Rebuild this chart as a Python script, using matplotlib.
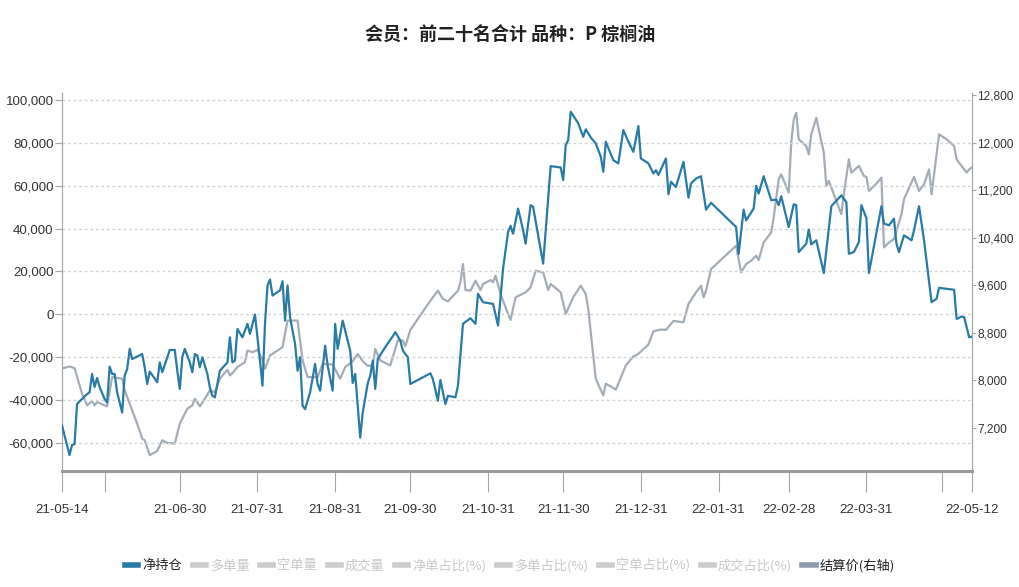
import matplotlib
matplotlib.use("Agg")
import matplotlib.pyplot as plt
import pandas as pd
from matplotlib.lines import Line2D

plt.rcParams['font.family'] = ['Noto Sans CJK SC', 'DejaVu Sans']

# 净持仓 (左轴)
net_dates = [
    "21-05-14", "21-05-17", "21-05-18", "21-05-19", "21-05-20", "21-05-21", "21-05-24", "21-05-25",
    "21-05-26", "21-05-27", "21-05-28", "21-05-29", "21-05-31", "21-06-01", "21-06-02", "21-06-03",
    "21-06-04", "21-06-05", "21-06-07", "21-06-08", "21-06-09", "21-06-10", "21-06-11", "21-06-13",
    "21-06-15", "21-06-16", "21-06-17", "21-06-18", "21-06-21", "21-06-22", "21-06-23", "21-06-26",
    "21-06-28", "21-06-29", "21-06-30",
    "21-07-01", "21-07-02", "21-07-04", "21-07-05", "21-07-06", "21-07-07", "21-07-08", "21-07-09",
    "21-07-11", "21-07-12", "21-07-13", "21-07-14", "21-07-16", "21-07-19", "21-07-20", "21-07-21",
    "21-07-22", "21-07-23", "21-07-25", "21-07-27", "21-07-28", "21-07-30",
    "21-08-01", "21-08-02", "21-08-03", "21-08-04", "21-08-05", "21-08-06", "21-08-09", "21-08-10",
    "21-08-11", "21-08-12", "21-08-13", "21-08-15", "21-08-16", "21-08-17", "21-08-18", "21-08-19",
    "21-08-21", "21-08-23", "21-08-24", "21-08-25", "21-08-27", "21-08-28", "21-08-30", "21-08-31",
    "21-09-01", "21-09-03", "21-09-06", "21-09-07", "21-09-08", "21-09-10", "21-09-11", "21-09-13",
    "21-09-14", "21-09-15", "21-09-16", "21-09-17", "21-09-20", "21-09-23", "21-09-24", "21-09-26",
    "21-09-27", "21-09-29", "21-09-30",
    "21-10-08", "21-10-09", "21-10-11", "21-10-12", "21-10-14", "21-10-15", "21-10-18", "21-10-19",
    "21-10-21", "21-10-24", "21-10-26", "21-10-27", "21-10-29",
    "21-11-02", "21-11-04", "21-11-06", "21-11-08", "21-11-09", "21-11-10", "21-11-12", "21-11-14",
    "21-11-15", "21-11-17", "21-11-18", "21-11-22", "21-11-25", "21-11-29", "21-11-30",
    "21-12-01", "21-12-02", "21-12-03", "21-12-06", "21-12-08", "21-12-09", "21-12-11", "21-12-13",
    "21-12-15", "21-12-16", "21-12-17", "21-12-20", "21-12-22", "21-12-24", "21-12-26", "21-12-28",
    "21-12-30", "21-12-31",
    "22-01-03", "22-01-05", "22-01-06", "22-01-07", "22-01-10", "22-01-11", "22-01-12", "22-01-14",
    "22-01-17", "22-01-19", "22-01-20", "22-01-22", "22-01-24", "22-01-26", "22-01-28",
    "22-02-07", "22-02-08", "22-02-10", "22-02-11", "22-02-14", "22-02-15", "22-02-16", "22-02-18",
    "22-02-21", "22-02-23", "22-02-24", "22-02-25", "22-02-28",
    "22-03-02", "22-03-03", "22-03-04", "22-03-07", "22-03-08", "22-03-09", "22-03-11", "22-03-14",
    "22-03-17", "22-03-21", "22-03-23", "22-03-24", "22-03-26", "22-03-28", "22-03-29", "22-03-31",
    "22-04-01", "22-04-06", "22-04-07", "22-04-09", "22-04-11", "22-04-12", "22-04-13", "22-04-15",
    "22-04-18", "22-04-19", "22-04-21", "22-04-23", "22-04-26", "22-04-28", "22-04-29",
    "22-05-05", "22-05-06", "22-05-08", "22-05-09", "22-05-11", "22-05-12",
]
net_values = [
    -52000, -65800, -61000, -60700, -42000, -40700, -37300, -36500,
    -27900, -34000, -29800, -34000, -39600, -41200, -24500, -27900,
    -27900, -36500, -45900, -28700, -25600, -16200, -20900, -19800,
    -18600, -24800, -32600, -26800, -31800, -22500, -27100, -16700,
    -16700, -26400, -34900,
    -20100, -16200, -22500, -27100, -18600, -19300, -24800, -20100,
    -27900, -34200, -38100, -38800, -26400, -22500, -10800, -22500,
    -21700, -6900, -10800, -4500, -9200, -200,
    -21700, -33400, -4500, 13400, 16200, 8700, 11100, 15400,
    -3000, 13400, -1400, -13900, -26400, -20100, -42700, -44300,
    -36500, -23200, -32600, -35700, -14700, -24000, -35700, -4500,
    -16200, -3000, -17000, -32100, -27900, -57600, -45900, -32300,
    -28700, -21700, -34900, -20900, -15400, -10300, -8400, -12300,
    -17000, -20100, -32600,
    -27600, -30300, -40400, -30700, -42000, -38100, -38800, -33400,
    -4500, -1900, -4500, 9500, 5600,
    4800, -5300, 21200, 38400, 41200, 37600, 49300, 39200,
    32900, 50900, 50100, 23600, 69100, 68500, 62600,
    78900, 81300, 94500, 89100, 82800, 86300, 82500, 79700,
    73500, 66500, 80500, 71900, 70400, 86000, 80500, 75800,
    87800, 72700,
    70400, 65700, 67200, 65000, 72700, 56000, 61800, 59400,
    71100, 54400, 61000, 63300, 64400, 48800, 52000,
    40700, 28100, 48800, 43800, 49300, 59900, 56300, 64400,
    53200, 53500, 50900, 55100, 40700,
    51300, 50900, 29000, 32900, 39500, 32600, 34500, 19200,
    50400, 55500, 52300, 28200, 29000, 33700, 50900, 44800,
    19200, 50400, 42300, 41500, 44600, 32900, 29000, 36800,
    34500, 39200, 50400, 34500, 5600, 7200, 12300,
    11400, -2200, -1100, -1400, -10800, -10500,
]

# 结算价 (右轴)
price_dates = [
    "21-05-14", "21-05-17", "21-05-19", "21-05-21", "21-05-22", "21-05-24", "21-05-26", "21-05-27",
    "21-05-28", "21-05-30", "21-06-01", "21-06-03", "21-06-07", "21-06-08", "21-06-11", "21-06-13",
    "21-06-15", "21-06-16", "21-06-18", "21-06-21", "21-06-23", "21-06-25", "21-06-28", "21-06-30",
    "21-07-03", "21-07-05", "21-07-06", "21-07-08", "21-07-10", "21-07-12", "21-07-14", "21-07-16",
    "21-07-19", "21-07-20", "21-07-21", "21-07-23", "21-07-26", "21-07-27", "21-07-29", "21-07-31",
    "21-08-02", "21-08-03", "21-08-05", "21-08-06", "21-08-10", "21-08-12", "21-08-16", "21-08-18",
    "21-08-20", "21-08-24", "21-08-26", "21-08-30",
    "21-09-02", "21-09-04", "21-09-07", "21-09-09", "21-09-11", "21-09-13", "21-09-15", "21-09-16",
    "21-09-18", "21-09-22", "21-09-25", "21-09-27", "21-09-28", "21-09-30",
    "21-10-08", "21-10-11", "21-10-13", "21-10-15", "21-10-19", "21-10-20", "21-10-21", "21-10-22",
    "21-10-24", "21-10-26", "21-10-28", "21-10-29",
    "21-11-01", "21-11-02", "21-11-03", "21-11-05", "21-11-08", "21-11-09", "21-11-11", "21-11-15",
    "21-11-17", "21-11-19", "21-11-22", "21-11-24", "21-11-25", "21-11-29",
    "21-12-01", "21-12-04", "21-12-07", "21-12-09", "21-12-10", "21-12-13", "21-12-16", "21-12-17",
    "21-12-19", "21-12-21", "21-12-25", "21-12-28", "21-12-30",
    "22-01-03", "22-01-05", "22-01-08", "22-01-10", "22-01-13", "22-01-17", "22-01-19", "22-01-22",
    "22-01-24", "22-01-25", "22-01-26", "22-01-28",
    "22-02-07", "22-02-09", "22-02-11", "22-02-13", "22-02-15", "22-02-16", "22-02-18", "22-02-21",
    "22-02-22", "22-02-24", "22-02-25", "22-02-28",
    "22-03-01", "22-03-02", "22-03-03", "22-03-04", "22-03-07", "22-03-08", "22-03-09", "22-03-11",
    "22-03-14", "22-03-15", "22-03-16", "22-03-19", "22-03-21", "22-03-22", "22-03-24", "22-03-25",
    "22-03-28", "22-03-30", "22-03-31",
    "22-04-01", "22-04-04", "22-04-06", "22-04-07", "22-04-09", "22-04-11", "22-04-12", "22-04-14",
    "22-04-15", "22-04-19", "22-04-21", "22-04-23", "22-04-25", "22-04-26", "22-04-29",
    "22-05-02", "22-05-05", "22-05-06", "22-05-08", "22-05-10", "22-05-11", "22-05-12",
]
price_values = [
    8200, 8235, 8207, 7916, 7776, 7580, 7653, 7580,
    7636, 7597, 7564, 8056, 8028, 7832, 7496, 7273,
    7021, 6993, 6741, 6814, 6993, 6948, 6937, 7273,
    7524, 7580, 7692, 7564, 7692, 7832, 7804, 8028,
    8179, 8084, 8123, 8224, 8308, 8503, 8475, 8515,
    8347, 8196, 8419, 8447, 8559, 9007, 9007, 8336,
    8056, 8056, 8280, 8268,
    8028, 8224, 8324, 8447, 8324, 8245, 8252, 8531,
    8336, 8252, 8671, 8671, 8576, 8850,
    9343, 9510, 9371, 9331, 9510, 9650, 9958, 9521,
    9510, 9678, 9521, 9622,
    9689, 9650, 9762, 9454, 9119, 9018, 9398, 9482,
    9566, 9846, 9818, 9521, 9622, 9482,
    9119, 9398, 9594, 9454, 9203, 8028, 7748, 7944,
    7899, 7843, 8252, 8403, 8447,
    8604, 8828, 8856, 8850, 9000, 8979, 9287, 9482,
    9594, 9398, 9510, 9874,
    10266, 9818, 9958, 10014, 10098, 10025, 10321, 10489,
    10741, 11384, 11468, 11160,
    12000, 12391, 12503, 12056, 11944, 11804, 12140, 12419,
    11832, 11272, 11356, 11021, 10797, 11132, 11720, 11496,
    11608, 11440, 11423,
    11188, 11311, 11412, 10238, 10321, 10378, 10517, 10797,
    11049, 11423, 11188, 11300, 11552, 11132, 12140,
    12056, 11944, 11720, 11608, 11496, 11552, 11580,
]

tick_dates = ["21-05-14", "21-05-31", "21-06-30", "21-07-31", "21-08-31", "21-09-30", "21-10-31",
              "21-11-30", "21-12-31", "22-01-31", "22-02-28", "22-03-31", "22-04-30", "22-05-12"]
hidden_ticks = ["21-05-31", "22-04-30"]

legend_names = ['净持仓', '多单量', '空单量', '成交量', '净单占比(%)', '多单占比(%)',
                '空单占比(%)', '成交占比(%)', '结算价(右轴)']

net_x = pd.to_datetime(net_dates, format="%y-%m-%d")
price_x = pd.to_datetime(price_dates, format="%y-%m-%d")
tick_x = pd.to_datetime(tick_dates, format="%y-%m-%d")

num_font = 'Liberation Sans'
num_size = 8.6

blue = '#2a7aa6'
grey = '#a4adb7'
axis_col = '#a6a6a6'

fig = plt.figure(figsize=(10.2, 5.87), dpi=100)
ax = fig.add_axes([0.0608, 0.198, 0.8918, 0.643])
ax2 = ax.twinx()

ax.plot(net_x, net_values, color=blue, lw=1.6, zorder=3)
ax2.plot(price_x, price_values, color=grey, lw=1.6, zorder=2)
ax.set_zorder(ax2.get_zorder() + 1)
ax.patch.set_visible(False)

ax.set_xlim(tick_x[0], tick_x[-1])
ax.set_ylim(-73100, 103100)
ax2.set_ylim(6480, 12830)

ax.set_yticks(range(-60000, 100001, 20000))
ax.set_yticklabels(['{:,}'.format(v) for v in range(-60000, 100001, 20000)])
ax2.set_yticks(range(7200, 12801, 800))
ax2.set_yticklabels(['{:,}'.format(v) for v in range(7200, 12801, 800)])

ax.set_xticks(tick_x)
ax.set_xticklabels(['' if d in hidden_ticks else d for d in tick_dates])

ax.grid(axis='y', color='#d4d4d4', linestyle=(0, (2, 2)), lw=1)

for a in (ax, ax2):
    a.spines['top'].set_visible(False)
    a.spines['left'].set_color(axis_col)
    a.spines['right'].set_color(axis_col)
    a.spines['bottom'].set_color('#999999')
    a.spines['bottom'].set_linewidth(2)

ax.tick_params(axis='y', colors=axis_col, labelcolor='#333333', length=5, pad=1)
ax2.tick_params(axis='y', colors=axis_col, labelcolor='#333333', length=3, pad=1)
ax.tick_params(axis='x', colors=axis_col, labelcolor='#333333', length=15, pad=9)
for lab in ax.get_xticklabels() + ax.get_yticklabels() + ax2.get_yticklabels():
    lab.set_family(num_font)
    lab.set_fontsize(num_size)
for lab in ax.get_xticklabels() + ax.get_yticklabels():
    lab.set_fontsize(9.5)

fig.text(0.5, 0.94, '会员：前二十名合计 品种：P 棕榈油', ha='center', va='center',
         fontsize=13, fontweight='bold', color='#222222')

# 图例: 只有净持仓和结算价是开启状态
handle_colors = [blue] + ['#cccccc'] * 7 + ['#8d9caa']
handles = [Line2D([0], [0], color=c, lw=4) for c in handle_colors]
leg = fig.legend(handles, legend_names, loc='center', bbox_to_anchor=(0.5, 0.037), ncol=9,
                 frameon=False, fontsize=9.5, handlelength=1.0, handletextpad=0.3,
                 columnspacing=0.8)
for i, t in enumerate(leg.get_texts()):
    if i == 0 or i == 8:
        t.set_color('#222222')
    else:
        t.set_color('#c8c8c8')

fig.savefig('out.png', dpi=100)
